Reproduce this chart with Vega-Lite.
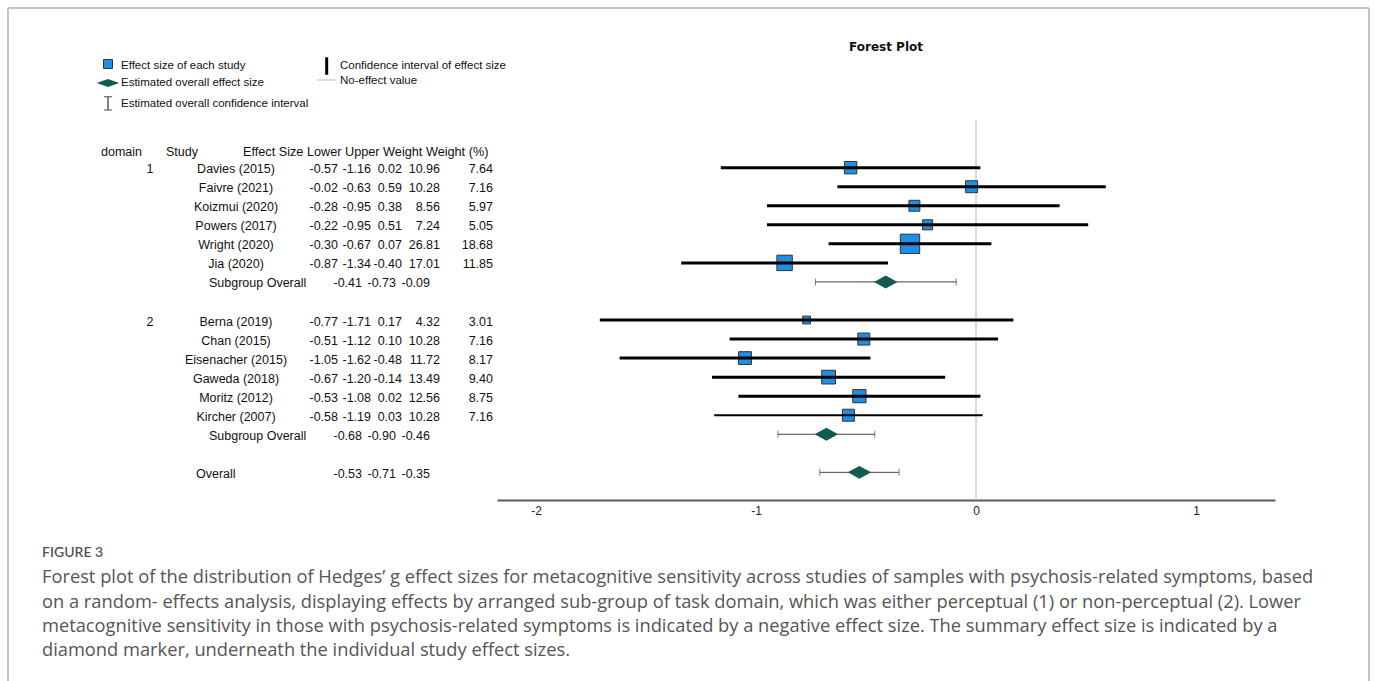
{
  "$schema": "https://vega.github.io/schema/vega-lite/v6.json",
  "width": 778,
  "height": 380,
  "autosize": {"type": "none"},
  "padding": {"left": 497, "top": 120, "right": 100, "bottom": 181},
  "background": "white",
  "config": {
    "view": {"stroke": null},
    "font": "Liberation Sans",
    "text": {"fontSize": 12.5, "color": "#111111", "baseline": "middle"},
    "locale": {"number": {"decimal": ".", "thousands": ",", "grouping": [3], "currency": ["$", ""], "minus": "-"}}
  },
  "datasets": {
    "studies": [
      {"study": "Davies (2015)", "domain": 1, "es": -0.57, "lo": -1.16, "hi": 0.02, "weight": 10.96, "wpct": 7.64, "row": 1},
      {"study": "Faivre (2021)", "domain": 1, "es": -0.02, "lo": -0.63, "hi": 0.59, "weight": 10.28, "wpct": 7.16, "row": 2},
      {"study": "Koizmui (2020)", "domain": 1, "es": -0.28, "lo": -0.95, "hi": 0.38, "weight": 8.56, "wpct": 5.97, "row": 3},
      {"study": "Powers (2017)", "domain": 1, "es": -0.22, "lo": -0.95, "hi": 0.51, "weight": 7.24, "wpct": 5.05, "row": 4},
      {"study": "Wright (2020)", "domain": 1, "es": -0.30, "lo": -0.67, "hi": 0.07, "weight": 26.81, "wpct": 18.68, "row": 5},
      {"study": "Jia (2020)", "domain": 1, "es": -0.87, "lo": -1.34, "hi": -0.40, "weight": 17.01, "wpct": 11.85, "row": 6},
      {"study": "Berna (2019)", "domain": 2, "es": -0.77, "lo": -1.71, "hi": 0.17, "weight": 4.32, "wpct": 3.01, "row": 9},
      {"study": "Chan (2015)", "domain": 2, "es": -0.51, "lo": -1.12, "hi": 0.10, "weight": 10.28, "wpct": 7.16, "row": 10},
      {"study": "Eisenacher (2015)", "domain": 2, "es": -1.05, "lo": -1.62, "hi": -0.48, "weight": 11.72, "wpct": 8.17, "row": 11},
      {"study": "Gaweda (2018)", "domain": 2, "es": -0.67, "lo": -1.20, "hi": -0.14, "weight": 13.49, "wpct": 9.40, "row": 12},
      {"study": "Moritz (2012)", "domain": 2, "es": -0.53, "lo": -1.08, "hi": 0.02, "weight": 12.56, "wpct": 8.75, "row": 13},
      {"study": "Kircher (2007)", "domain": 2, "es": -0.58, "lo": -1.19, "hi": 0.03, "weight": 10.28, "wpct": 7.16, "row": 14}
    ],
    "summary": [
      {"label": "Subgroup Overall", "domain": 1, "es": -0.41, "lo": -0.73, "hi": -0.09, "row": 7},
      {"label": "Subgroup Overall", "domain": 2, "es": -0.68, "lo": -0.90, "hi": -0.46, "row": 15},
      {"label": "Overall", "domain": 0, "es": -0.53, "lo": -0.71, "hi": -0.35, "row": 17}
    ]
  },
  "layer": [
    {"data": {"values": [{}]}, "mark": {"type": "rule", "color": "#c4c4c4", "strokeWidth": 2},
     "encoding": {"x": {"datum": -4.4, "type": "quantitative"}, "y": {"datum": -7.387, "type": "quantitative", "axis": null}, "y2": {"datum": 28}}},
    {"data": {"values": [{}]}, "mark": {"type": "rule", "color": "#c4c4c4", "strokeWidth": 2},
     "encoding": {"x": {"datum": -4.4, "type": "quantitative"}, "x2": {"datum": 1.7864}, "y": {"datum": -7.387, "type": "quantitative", "axis": null}}},
    {"data": {"values": [{}]}, "mark": {"type": "rule", "color": "#c4c4c4", "strokeWidth": 2},
     "encoding": {"x": {"datum": 1.7864, "type": "quantitative"}, "y": {"datum": -7.387, "type": "quantitative", "axis": null}, "y2": {"datum": 28}}},
    {"data": {"values": [{}]}, "mark": {"type": "rule", "color": "#cfcfcf", "strokeWidth": 1.5},
     "encoding": {"x": {"datum": 0, "type": "quantitative",
       "scale": {"domain": [-2.17727, 1.35909], "nice": false, "zero": false},
       "axis": {"values": [-2, -1, 0, 1], "ticks": false, "grid": false, "title": null, "domainColor": "#5a5a5a", "domainWidth": 2, "labelFont": "Liberation Sans", "labelFontSize": 12, "labelColor": "#222222", "labelPadding": 5, "format": "d"}}}},
    {"data": {"name": "studies"}, "mark": {"type": "square", "filled": true, "color": "#1f8fe5", "stroke": "#333333", "strokeWidth": 1, "opacity": 1},
     "encoding": {
       "x": {"field": "es", "type": "quantitative"},
       "y": {"field": "row", "type": "quantitative", "scale": {"domain": [-1.505, 18.453], "reverse": true, "nice": false, "zero": false}, "axis": null},
       "size": {"field": "wpct", "type": "quantitative", "scale": {"domain": [0, 18.68], "range": [0, 375]}, "legend": null}}},
    {"data": {"name": "studies"}, "mark": {"type": "rule", "color": "#000000"},
     "encoding": {
       "x": {"field": "lo", "type": "quantitative"}, "x2": {"field": "hi"},
       "y": {"field": "row", "type": "quantitative", "axis": null},
       "strokeWidth": {"condition": {"test": "datum.study === 'Kircher (2007)'", "value": 2}, "value": 3}}},
    {"data": {"name": "summary"}, "mark": {"type": "point", "shape": "M-1,0L0,-0.55L1,0L0,0.55Z", "filled": true, "color": "#0c5e54", "size": 550, "opacity": 1, "strokeWidth": 0},
     "encoding": {"x": {"field": "es", "type": "quantitative"}, "y": {"field": "row", "type": "quantitative", "axis": null}}},
    {"data": {"name": "summary"}, "mark": {"type": "rule", "color": "#444444", "strokeWidth": 1},
     "encoding": {"x": {"field": "lo", "type": "quantitative"}, "x2": {"field": "hi"}, "y": {"field": "row", "type": "quantitative", "axis": null}}},
    {"data": {"name": "summary"}, "mark": {"type": "tick", "orient": "vertical", "color": "#444444", "size": 7, "thickness": 1},
     "encoding": {"x": {"field": "lo", "type": "quantitative"}, "y": {"field": "row", "type": "quantitative", "axis": null}}},
    {"data": {"name": "summary"}, "mark": {"type": "tick", "orient": "vertical", "color": "#444444", "size": 7, "thickness": 1},
     "encoding": {"x": {"field": "hi", "type": "quantitative"}, "y": {"field": "row", "type": "quantitative", "axis": null}}},

    {"data": {"values": [{}]}, "mark": {"type": "text", "text": "Forest Plot", "font": "DejaVu Sans", "fontSize": 12, "fontWeight": "bold", "align": "center"},
     "encoding": {"x": {"datum": -0.40909, "type": "quantitative"}, "y": {"datum": -5.339, "type": "quantitative", "axis": null}}},

    {"data": {"name": "studies"},
     "transform": [{"window": [{"op": "row_number", "as": "rank"}], "groupby": ["domain"], "sort": [{"field": "row"}]}, {"filter": "datum.rank === 1"}],
     "mark": {"type": "text", "align": "center", "dy": 1.5},
     "encoding": {"x": {"datum": -3.7545, "type": "quantitative"}, "y": {"field": "row", "type": "quantitative", "axis": null}, "text": {"field": "domain", "type": "nominal"}}},
    {"data": {"name": "studies"}, "mark": {"type": "text", "align": "center", "dy": 1.5},
     "encoding": {"x": {"datum": -3.3636, "type": "quantitative"}, "y": {"field": "row", "type": "quantitative", "axis": null}, "text": {"field": "study", "type": "nominal"}}},
    {"data": {"name": "studies"}, "mark": {"type": "text", "align": "right", "dy": 1.5},
     "encoding": {"x": {"datum": -2.9, "type": "quantitative"}, "y": {"field": "row", "type": "quantitative", "axis": null}, "text": {"field": "es", "type": "quantitative", "format": ".2f"}}},
    {"data": {"name": "studies"}, "mark": {"type": "text", "align": "right", "dy": 1.5},
     "encoding": {"x": {"datum": -2.75, "type": "quantitative"}, "y": {"field": "row", "type": "quantitative", "axis": null}, "text": {"field": "lo", "type": "quantitative", "format": ".2f"}}},
    {"data": {"name": "studies"}, "mark": {"type": "text", "align": "right", "dy": 1.5},
     "encoding": {"x": {"datum": -2.6091, "type": "quantitative"}, "y": {"field": "row", "type": "quantitative", "axis": null}, "text": {"field": "hi", "type": "quantitative", "format": ".2f"}}},
    {"data": {"name": "studies"}, "mark": {"type": "text", "align": "right", "dy": 1.5},
     "encoding": {"x": {"datum": -2.4364, "type": "quantitative"}, "y": {"field": "row", "type": "quantitative", "axis": null}, "text": {"field": "weight", "type": "quantitative", "format": ".2f"}}},
    {"data": {"name": "studies"}, "mark": {"type": "text", "align": "right", "dy": 1.5},
     "encoding": {"x": {"datum": -2.1955, "type": "quantitative"}, "y": {"field": "row", "type": "quantitative", "axis": null}, "text": {"field": "wpct", "type": "quantitative", "format": ".2f"}}},

    {"data": {"name": "summary"}, "transform": [{"filter": "datum.label === 'Subgroup Overall'"}],
     "mark": {"type": "text", "align": "left", "dy": 1.5},
     "encoding": {"x": {"datum": -3.4864, "type": "quantitative"}, "y": {"field": "row", "type": "quantitative", "axis": null}, "text": {"field": "label", "type": "nominal"}}},
    {"data": {"name": "summary"}, "transform": [{"filter": "datum.label === 'Overall'"}],
     "mark": {"type": "text", "align": "left", "dy": 1.5},
     "encoding": {"x": {"datum": -3.5455, "type": "quantitative"}, "y": {"field": "row", "type": "quantitative", "axis": null}, "text": {"field": "label", "type": "nominal"}}},
    {"data": {"name": "summary"}, "mark": {"type": "text", "align": "right", "dy": 1.5},
     "encoding": {"x": {"datum": -2.7909, "type": "quantitative"}, "y": {"field": "row", "type": "quantitative", "axis": null}, "text": {"field": "es", "type": "quantitative", "format": ".2f"}}},
    {"data": {"name": "summary"}, "mark": {"type": "text", "align": "right", "dy": 1.5},
     "encoding": {"x": {"datum": -2.6364, "type": "quantitative"}, "y": {"field": "row", "type": "quantitative", "axis": null}, "text": {"field": "lo", "type": "quantitative", "format": ".2f"}}},
    {"data": {"name": "summary"}, "mark": {"type": "text", "align": "right", "dy": 1.5},
     "encoding": {"x": {"datum": -2.4818, "type": "quantitative"}, "y": {"field": "row", "type": "quantitative", "axis": null}, "text": {"field": "hi", "type": "quantitative", "format": ".2f"}}},

    {"data": {"values": [{}]}, "mark": {"type": "text", "text": "domain", "align": "left"},
     "encoding": {"x": {"datum": -3.9773, "type": "quantitative"}, "y": {"datum": 0.15, "type": "quantitative", "axis": null}}},
    {"data": {"values": [{}]}, "mark": {"type": "text", "text": "Study", "align": "left"},
     "encoding": {"x": {"datum": -3.6818, "type": "quantitative"}, "y": {"datum": 0.15, "type": "quantitative", "axis": null}}},
    {"data": {"values": [{}]}, "mark": {"type": "text", "text": "Effect Size Lower Upper Weight Weight (%)", "fontSize": 12.7, "align": "left"},
     "encoding": {"x": {"datum": -3.3318, "type": "quantitative"}, "y": {"datum": 0.15, "type": "quantitative", "axis": null}}},

    {"data": {"values": [{}]}, "mark": {"type": "square", "filled": true, "color": "#1f8fe5", "stroke": "#333333", "strokeWidth": 1, "size": 81, "opacity": 1},
     "encoding": {"x": {"datum": -3.9455, "type": "quantitative"}, "y": {"datum": -4.4464, "type": "quantitative", "axis": null}}},
    {"data": {"values": [{}]}, "mark": {"type": "point", "shape": "M-1,0L0,-0.36L1,0L0,0.36Z", "filled": true, "color": "#0c5e54", "size": 511, "opacity": 1, "strokeWidth": 0},
     "encoding": {"x": {"datum": -3.9455, "type": "quantitative"}, "y": {"datum": -3.4485, "type": "quantitative", "axis": null}}},
    {"data": {"values": [{}]}, "mark": {"type": "rule", "color": "#333333", "strokeWidth": 1.2},
     "encoding": {"x": {"datum": -3.9455, "type": "quantitative"}, "y": {"datum": -2.729, "type": "quantitative", "axis": null}, "y2": {"datum": -2.0305}}},
    {"data": {"values": [{}]}, "mark": {"type": "tick", "orient": "horizontal", "color": "#333333", "size": 8, "thickness": 1.2},
     "encoding": {"x": {"datum": -3.9455, "type": "quantitative"}, "y": {"datum": -2.729, "type": "quantitative", "axis": null}}},
    {"data": {"values": [{}]}, "mark": {"type": "tick", "orient": "horizontal", "color": "#333333", "size": 8, "thickness": 1.2},
     "encoding": {"x": {"datum": -3.9455, "type": "quantitative"}, "y": {"datum": -2.0305, "type": "quantitative", "axis": null}}},
    {"data": {"values": [{}]}, "mark": {"type": "rule", "color": "#000000", "strokeWidth": 3},
     "encoding": {"x": {"datum": -2.9514, "type": "quantitative"}, "y": {"datum": -4.7979, "type": "quantitative", "axis": null}, "y2": {"datum": -3.8792}}},
    {"data": {"values": [{}]}, "mark": {"type": "rule", "color": "#bbbbbb", "strokeWidth": 1},
     "encoding": {"x": {"datum": -2.9968, "type": "quantitative"}, "x2": {"datum": -2.9059}, "y": {"datum": -3.6061, "type": "quantitative", "axis": null}}},
    {"data": {"values": [{}]}, "mark": {"type": "text", "text": "Effect size of each study", "fontSize": 11.5, "align": "left"},
     "encoding": {"x": {"datum": -3.8864, "type": "quantitative"}, "y": {"datum": -4.366, "type": "quantitative", "axis": null}}},
    {"data": {"values": [{}]}, "mark": {"type": "text", "text": "Estimated overall effect size", "fontSize": 11.5, "align": "left"},
     "encoding": {"x": {"datum": -3.8864, "type": "quantitative"}, "y": {"datum": -3.464, "type": "quantitative", "axis": null}}},
    {"data": {"values": [{}]}, "mark": {"type": "text", "text": "Estimated overall confidence interval", "fontSize": 11.5, "align": "left"},
     "encoding": {"x": {"datum": -3.8864, "type": "quantitative"}, "y": {"datum": -2.3456, "type": "quantitative", "axis": null}}},
    {"data": {"values": [{}]}, "mark": {"type": "text", "text": "Confidence interval of effect size", "fontSize": 11.5, "align": "left"},
     "encoding": {"x": {"datum": -2.8909, "type": "quantitative"}, "y": {"datum": -4.366, "type": "quantitative", "axis": null}}},
    {"data": {"values": [{}]}, "mark": {"type": "text", "text": "No-effect value", "fontSize": 11.5, "align": "left"},
     "encoding": {"x": {"datum": -2.8909, "type": "quantitative"}, "y": {"datum": -3.5698, "type": "quantitative", "axis": null}}},

    {"data": {"values": [{}]}, "mark": {"type": "text", "text": "FIGURE 3", "font": "Lato", "fontSize": 14, "fontWeight": 600, "color": "#555555", "align": "left"},
     "encoding": {"x": {"datum": -4.2455, "type": "quantitative"}, "y": {"datum": 21.237, "type": "quantitative", "axis": null}}},
    {"data": {"values": [{}]}, "mark": {"type": "text", "text": "Forest plot of the distribution of Hedges’ g effect sizes for metacognitive sensitivity across studies of samples with psychosis-related symptoms, based", "font": "Open Sans", "fontSize": 18.3, "color": "#555555", "align": "left"},
     "encoding": {"x": {"datum": -4.2455, "type": "quantitative"}, "y": {"datum": 22.55, "type": "quantitative", "axis": null}}},
    {"data": {"values": [{}]}, "mark": {"type": "text", "text": "on a random- effects analysis, displaying effects by arranged sub-group of task domain, which was either perceptual (1) or non-perceptual (2). Lower", "font": "Open Sans", "fontSize": 18.3, "color": "#555555", "align": "left"},
     "encoding": {"x": {"datum": -4.2455, "type": "quantitative"}, "y": {"datum": 23.863, "type": "quantitative", "axis": null}}},
    {"data": {"values": [{}]}, "mark": {"type": "text", "text": "metacognitive sensitivity in those with psychosis-related symptoms is indicated by a negative effect size. The summary effect size is indicated by a", "font": "Open Sans", "fontSize": 18.3, "color": "#555555", "align": "left"},
     "encoding": {"x": {"datum": -4.2455, "type": "quantitative"}, "y": {"datum": 25.123, "type": "quantitative", "axis": null}}},
    {"data": {"values": [{}]}, "mark": {"type": "text", "text": "diamond marker, underneath the individual study effect sizes.", "font": "Open Sans", "fontSize": 18.3, "color": "#555555", "align": "left"},
     "encoding": {"x": {"datum": -4.2455, "type": "quantitative"}, "y": {"datum": 26.384, "type": "quantitative", "axis": null}}}
  ]
}
